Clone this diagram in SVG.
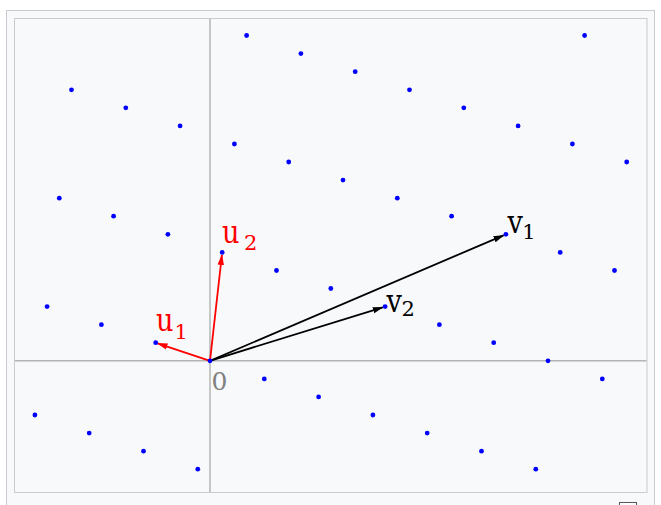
<svg xmlns="http://www.w3.org/2000/svg" width="661" height="505" viewBox="0 0 661 505">
<style>
.frame{fill:#f8f9fa;stroke:#c8ccd1;stroke-width:1}
.axis{stroke:#b4b4b4;stroke-width:1.5;fill:none}
.dot{fill:#0000ff}
.red{stroke:#ff0000;stroke-width:1.8;fill:none}
.blk{stroke:#000;stroke-width:1.8;fill:none}
.lbl{font-family:"DejaVu Serif","Liberation Serif",serif}
.big{font-size:32px}
.sub{font-size:21px}
</style>
<defs>
<marker id="ar" markerWidth="12" markerHeight="8" refX="10" refY="4" orient="auto" markerUnits="userSpaceOnUse"><path d="M0,0.8 L11,4 L0,7.2 Z" fill="#ff0000"/></marker>
<marker id="ab" markerWidth="12" markerHeight="8" refX="10" refY="4" orient="auto" markerUnits="userSpaceOnUse"><path d="M0,0.8 L11,4 L0,7.2 Z" fill="#000"/></marker>
</defs>
<rect class="frame" x="6.5" y="10.5" width="648" height="510"/>
<rect class="frame" x="14.5" y="18.5" width="632.5" height="474" stroke-width="1.5"/>
<rect x="619.5" y="502.5" width="17" height="12" fill="#fff" stroke="#54595d" stroke-width="1"/>
<g id="axes">
<line class="axis" x1="210" y1="19" x2="210" y2="492"/>
<line class="axis" x1="15" y1="360.8" x2="646.5" y2="360.8"/>
</g>
<g id="connectors">
<line id="e-u1" class="red" x1="210" y1="360.8" x2="157.5" y2="343.3" marker-end="url(#ar)"/>
<line id="e-u2" class="red" x1="210" y1="360.8" x2="221.9" y2="255" marker-end="url(#ar)"/>
<line id="e-v1" class="blk" x1="210" y1="360.8" x2="503.5" y2="235.3" marker-end="url(#ab)"/>
<line id="e-v2" class="blk" x1="210" y1="360.8" x2="382.8" y2="307.3" marker-end="url(#ab)"/>
</g>
<g id="lattice" class="dot">
<circle cx="246.6" cy="35.5" r="2.4"/><circle cx="584.6" cy="35.5" r="2.4"/>
<circle cx="300.9" cy="53.6" r="2.4"/>
<circle cx="355.2" cy="71.7" r="2.4"/>
<circle cx="71.5" cy="89.8" r="2.4"/><circle cx="409.5" cy="89.8" r="2.4"/>
<circle cx="125.8" cy="107.8" r="2.4"/><circle cx="463.8" cy="107.8" r="2.4"/>
<circle cx="180.1" cy="125.9" r="2.4"/><circle cx="518.1" cy="125.9" r="2.4"/>
<circle cx="234.4" cy="144" r="2.4"/><circle cx="572.4" cy="144" r="2.4"/>
<circle cx="288.7" cy="162" r="2.4"/><circle cx="626.7" cy="162" r="2.4"/>
<circle cx="343" cy="180.1" r="2.4"/>
<circle cx="59.3" cy="198.2" r="2.4"/><circle cx="397.3" cy="198.2" r="2.4"/>
<circle cx="113.6" cy="216.2" r="2.4"/><circle cx="451.6" cy="216.2" r="2.4"/>
<circle cx="167.9" cy="234.3" r="2.4"/><circle cx="505.9" cy="234.3" r="2.4"/>
<circle cx="222.2" cy="252.4" r="2.4"/><circle cx="560.2" cy="252.4" r="2.4"/>
<circle cx="276.5" cy="270.5" r="2.4"/><circle cx="614.5" cy="270.5" r="2.4"/>
<circle cx="330.8" cy="288.5" r="2.4"/>
<circle cx="47.1" cy="306.6" r="2.4"/><circle cx="385.1" cy="306.6" r="2.4"/>
<circle cx="101.4" cy="324.7" r="2.4"/><circle cx="439.4" cy="324.7" r="2.4"/>
<circle cx="155.7" cy="342.7" r="2.4"/><circle cx="493.7" cy="342.7" r="2.4"/>
<circle cx="210" cy="360.8" r="2.4"/><circle cx="548" cy="360.8" r="2.4"/>
<circle cx="264.3" cy="378.9" r="2.4"/><circle cx="602.3" cy="378.9" r="2.4"/>
<circle cx="318.6" cy="396.9" r="2.4"/>
<circle cx="34.9" cy="415" r="2.4"/><circle cx="372.9" cy="415" r="2.4"/>
<circle cx="89.2" cy="433.1" r="2.4"/><circle cx="427.2" cy="433.1" r="2.4"/>
<circle cx="143.5" cy="451.2" r="2.4"/><circle cx="481.5" cy="451.2" r="2.4"/>
<circle cx="197.8" cy="469.2" r="2.4"/><circle cx="535.8" cy="469.2" r="2.4"/>
</g>
<g id="label-u1" class="lbl" fill="#ff0000"><text class="big" transform="translate(156,331) scale(0.85,1)">u</text><text class="sub" x="174.5" y="339">1</text></g>
<g id="label-u2" class="lbl" fill="#ff0000"><text class="big" transform="translate(222,243.3) scale(0.85,1)">u</text><text class="sub" x="244" y="250">2</text></g>
<g id="label-v1" class="lbl" fill="#000"><text class="big" transform="translate(507.5,233.3) scale(0.85,1)">v</text><text class="sub" x="522.2" y="239.3">1</text></g>
<g id="label-v2" class="lbl" fill="#000"><text class="big" transform="translate(386.5,311.7) scale(0.85,1)">v</text><text class="sub" x="401.5" y="316">2</text></g>
<g id="label-0" class="lbl" fill="#808080"><text x="211.5" y="390" font-size="25">0</text></g>
</svg>
